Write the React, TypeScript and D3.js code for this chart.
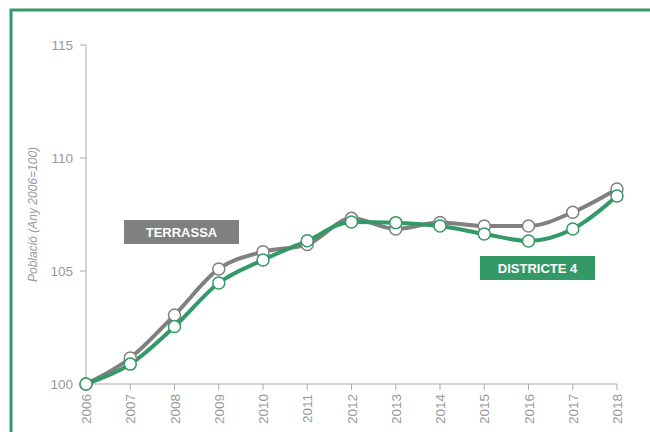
import React from 'react';
import * as d3 from 'd3';

const YEARS = ['2006', '2007', '2008', '2009', '2010', '2011', '2012', '2013', '2014', '2015', '2016', '2017', '2018'];
const TERRASSA = [100, 101.15, 103.05, 105.09, 105.85, 106.17, 107.33, 106.86, 107.15, 106.99, 106.99, 107.6, 108.63];
const DISTRICTE4 = [100, 100.88, 102.54, 104.47, 105.49, 106.34, 107.17, 107.14, 106.99, 106.64, 106.33, 106.86, 108.32];
const Y_TICKS = [100, 105, 110, 115];

const GREEN = '#339966';
const GREY = '#808080';
const FONT = '"Liberation Sans", Arial, sans-serif';
const NARROW = '"Liberation Sans Narrow", "Liberation Sans", Arial, sans-serif';

const App = () => {
  const width = 650, height = 432;
  const margin = { left: 86, right: 33, top: 45, bottom: 48 };

  const x = d3.scalePoint().domain(YEARS).range([margin.left, width - margin.right]);
  const y = d3.scaleLinear().domain([100, 115]).range([height - margin.bottom, margin.top]);

  const line = d3.line<number>()
    .x((d, i) => x(YEARS[i]) as number)
    .y(d => y(d))
    .curve(d3.curveMonotoneX);

  const series = [
    { name: 'TERRASSA', values: TERRASSA, color: GREY },
    { name: 'DISTRICTE 4', values: DISTRICTE4, color: GREEN },
  ];

  const y0 = y(100);

  return (
    <svg width={width} height={height} style={{ position: 'absolute', left: 0, top: 0, background: '#fff' }}>
      {/* frame */}
      <path d={`M11,${height + 5}V10H${width + 5}`} fill="none" stroke={GREEN} strokeWidth={3} />

      {/* y axis */}
      <line x1={margin.left} x2={margin.left} y1={y(115)} y2={y0} stroke="#aaa" />
      {Y_TICKS.map(t => (
        <g key={t} transform={`translate(0,${y(t)})`}>
          <line x1={margin.left - 6} x2={margin.left} stroke="#aaa" />
          <text x={margin.left - 13} dy="0.35em" textAnchor="end" fill="#999" fontSize={13.5} fontFamily={FONT}>{t}</text>
        </g>
      ))}
      <text
        transform={`translate(37,${(y(115) + y0) / 2}) rotate(-90)`}
        textAnchor="middle"
        fill="#999"
        fontSize={12}
        fontStyle="italic"
        fontFamily={FONT}
      >Població (Any 2006=100)</text>

      {/* x axis */}
      <line x1={margin.left} x2={width - margin.right} y1={y0} y2={y0} stroke="#aaa" />
      {YEARS.map(yr => (
        <g key={yr} transform={`translate(${x(yr)},${y0})`}>
          <line y2={6} stroke="#aaa" />
          <text transform="translate(5,10) rotate(-90)" textAnchor="end" fill="#999" fontSize={13.5} fontFamily={FONT}>{yr}</text>
        </g>
      ))}

      {/* lines */}
      {series.map(s => (
        <path key={s.name} d={line(s.values) || ''} fill="none" stroke={s.color} strokeWidth={4} strokeLinejoin="round" />
      ))}
      {series.map(s => (
        <g key={s.name + '-pts'}>
          {s.values.map((v, i) => (
            <circle key={i} cx={x(YEARS[i])} cy={y(v)} r={6} fill="#fff" stroke={s.color} strokeWidth={1.5} />
          ))}
        </g>
      ))}

      {/* labels */}
      <rect x={124} y={220} width={115} height={24} fill={GREY} />
      <text x={181.5} y={232} dy="0.35em" textAnchor="middle" fill="#fff" fontSize={13} fontWeight="bold" fontFamily={NARROW}>TERRASSA</text>
      <rect x={480} y={256} width={115} height={24} fill={GREEN} />
      <text x={537.5} y={268} dy="0.35em" textAnchor="middle" fill="#fff" fontSize={13} fontWeight="bold" fontFamily={NARROW}>DISTRICTE 4</text>
    </svg>
  );
};

export default App;
